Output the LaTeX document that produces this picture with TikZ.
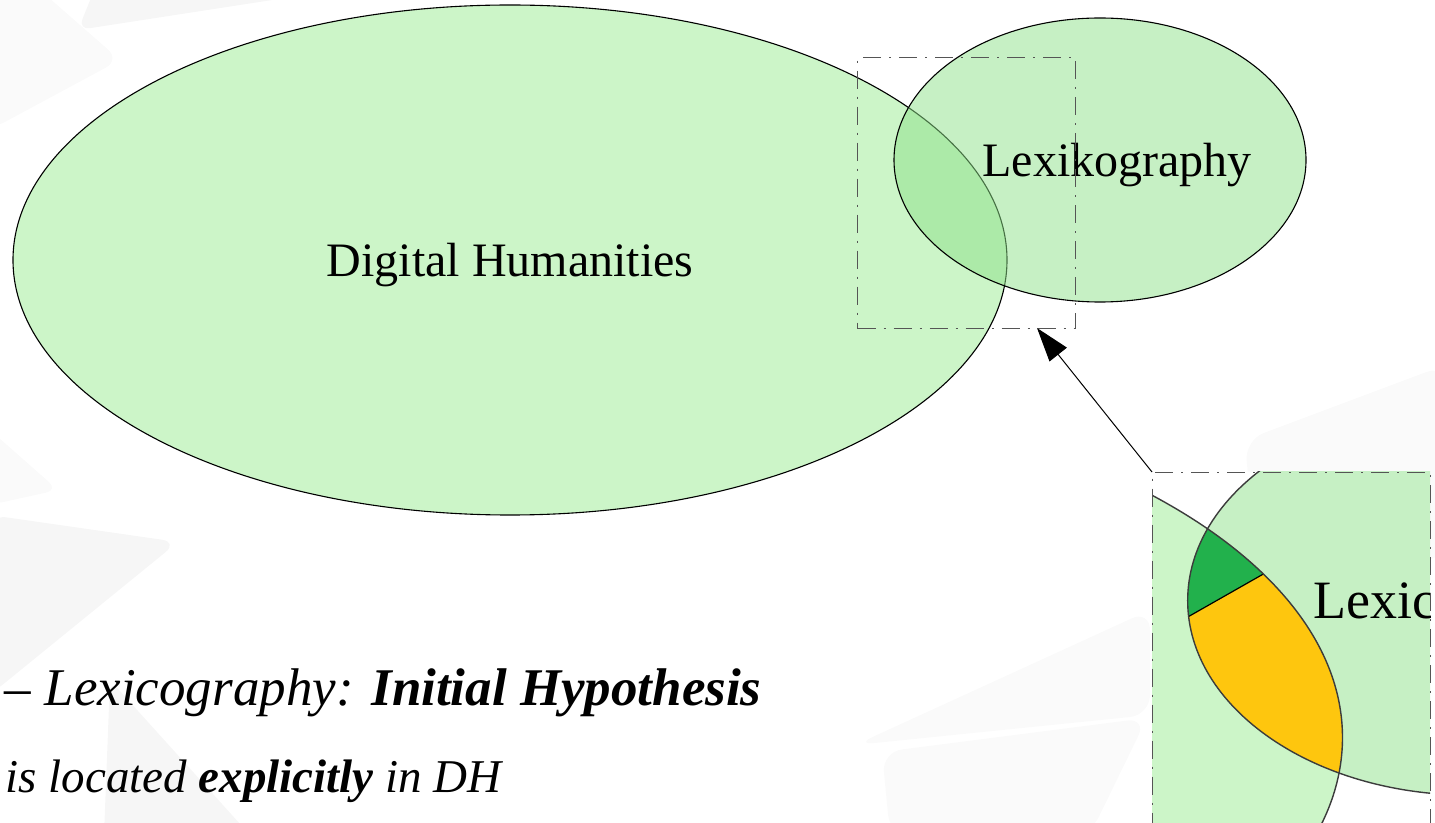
\documentclass[tikz,border=0pt]{standalone}
\usepackage{fontspec}
\setmainfont{Liberation Serif}
\usetikzlibrary{shapes.geometric,arrows.meta,calc}

\definecolor{dhgreen}{RGB}{204,245,200}
\definecolor{lexgreen}{RGB}{141,225,137}
\definecolor{lexsolid}{RGB}{198,240,196}
\definecolor{lensgreen}{RGB}{34,177,76}
\definecolor{lensyellow}{RGB}{254,198,14}
\definecolor{framegray}{RGB}{85,85,85}
\definecolor{insetline}{RGB}{60,60,60}
\definecolor{shadeA}{RGB}{246,246,246}
\definecolor{shadeB}{RGB}{250,250,250}

\begin{document}
\begin{tikzpicture}[x=0.5pt,y=-0.5pt,
  setshape/.style={ellipse, draw=black, line width=0.55pt, inner sep=0pt},
  zoomframe/.style={draw=framegray, line width=0.6pt,
    dash pattern=on 9pt off 4pt on 1pt off 4pt, inner sep=0pt},
  setlabel/.style={inner sep=0pt, font=\fontsize{24pt}{28pt}\selectfont},
  bodytext/.style={inner sep=0pt, anchor=base east},
  insetborder/.style={draw=insetline, line width=0.7pt},
  pointer/.style={draw=black, line width=0.5pt,
    -{Triangle[length=17pt,width=11pt]}}]

\useasboundingbox (0,0) rectangle (1435,823);
\clip (0,0) rectangle (1435,823);

% faint template shapes in the background
\fill[shadeA, rounded corners=6pt] (95,-12) -- (78,30) -- (350,-12) -- cycle;
\fill[shadeB, rounded corners=8pt] (-10,-10) -- (40,-10) -- (120,60) -- (-10,130) -- cycle;
\fill[shadeB, rounded corners=6pt] (-10,430) -- (58,490) -- (-10,505) -- cycle;
\fill[shadeA, rounded corners=8pt] (-10,515) -- (178,542) -- (-10,695) -- cycle;
\fill[shadeA, rounded corners=6pt] (110,680) -- (250,835) -- (104,835) -- cycle;
\fill[shadeB, rounded corners=10pt] (855,745) -- (1150,610) -- (1150,715) -- cycle;
\fill[shadeB, rounded corners=10pt] (882,752) -- (1147,718) -- (1090,835) -- (890,835) -- cycle;
\fill[shadeB, rounded corners=10pt] (1245,440) -- (1445,365) -- (1445,560) -- (1255,560) -- cycle;

% the two fields
\node[setshape, fill=dhgreen, minimum width=497pt, minimum height=255pt] (dh) at (510,260) {};
\node[setshape, fill=lexgreen, fill opacity=0.5, minimum width=206pt, minimum height=142pt] (lex) at (1100,160) {};
\node[setlabel, anchor=base] (dhlabel) at (510,277) {Digital Humanities};
\node[setlabel, anchor=base] (lexlabel) at (1117,177) {Lexikography};

% frame around the overlap
\node[zoomframe, minimum width=109pt, minimum height=135.5pt, anchor=north west] (zf) at (857,57) {};
\coordinate (tip) at (1037,328);

% magnified view of the overlap
\begin{scope}
  \clip (1152,472) rectangle (1430,830);
  \fill[white] (1152,472) rectangle (1430,830);
  \begin{scope}[shift={(-37.1,381.4)}, scale=1.37]
    \fill[dhgreen] (510,260) ellipse [x radius=248.5pt, y radius=127.5pt];
    \fill[lexsolid] (1100,160) ellipse [x radius=103pt, y radius=71pt];
    \begin{scope}
      \clip (510,260) ellipse [x radius=248.5pt, y radius=127.5pt];
      \fill[lensyellow] (1100,160) ellipse [x radius=103pt, y radius=71pt];
      \clip (1100,160) ellipse [x radius=103pt, y radius=71pt];
      \fill[lensgreen] (786,233.4) -- (1056,79.9) -- (1056,0) -- (786,0) -- cycle;
      \draw[black, line width=0.6pt] (786,233.4) -- (1056,79.9);
    \end{scope}
    \draw[insetborder] (510,260) ellipse [x radius=248.5pt, y radius=127.5pt];
    \draw[insetborder] (1100,160) ellipse [x radius=103pt, y radius=71pt];
  \end{scope}
  \node[inner sep=0pt, anchor=base west, font=\fontsize{27pt}{32pt}\selectfont] (lexcut) at (1313,618) {Lexic};
\end{scope}
\node[zoomframe, minimum width=139pt, minimum height=200pt, anchor=north west] (inset) at (1152,472) {};

\draw[pointer] (inset.north west) -- (tip);

% slide text
\node[bodytext, font=\fontsize{26.5pt}{30pt}\selectfont\itshape] (hyp) at (762,705)
  {– Lexicography: \textbf{Initial Hypothesis}};
\node[bodytext, font=\fontsize{23.5pt}{28pt}\selectfont\itshape] (loc) at (502,792)
  {is located \textbf{explicitly} in DH};
\end{tikzpicture}
\end{document}
